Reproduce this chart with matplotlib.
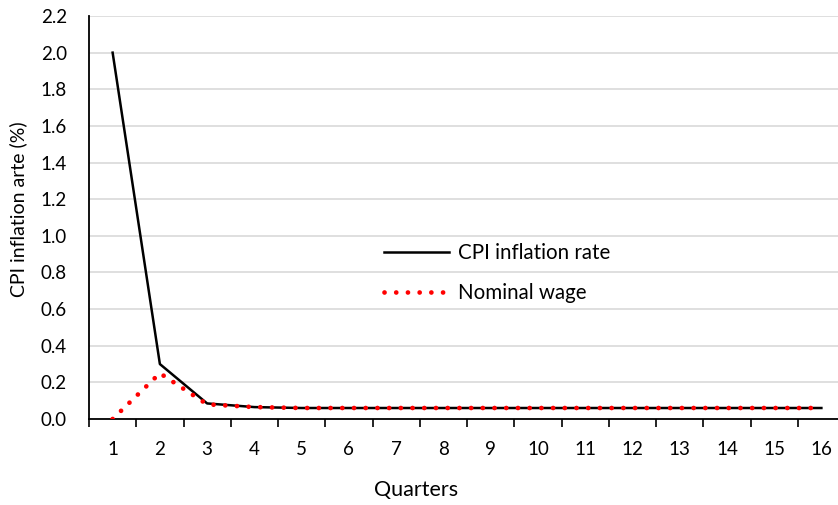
import matplotlib
matplotlib.use("Agg")
import matplotlib.pyplot as plt
import numpy as np

quarters = [str(i) for i in range(1, 17)]
cpi_inflation = [2.0, 0.30, 0.085, 0.065, 0.06, 0.06, 0.06, 0.06, 0.06, 0.06, 0.06, 0.06, 0.06, 0.06, 0.06, 0.06]
nominal_wage = [0.0, 0.25, 0.08, 0.065, 0.06, 0.06, 0.06, 0.06, 0.06, 0.06, 0.06, 0.06, 0.06, 0.06, 0.06, 0.06]
y_ticks = [0.0, 0.2, 0.4, 0.6, 0.8, 1.0, 1.2, 1.4, 1.6, 1.8, 2.0, 2.2]

plt.rcParams['font.family'] = ['Lato', 'DejaVu Sans']

W, H = 838, 505
fig = plt.figure(figsize=(W / 100, H / 100), dpi=100)
left, right, top, bottom = 89, 845, 16, 419
aw, ah = right - left, bottom - top
ax = fig.add_axes([left / W, 1 - bottom / H, aw / W, ah / H])

x = np.arange(len(quarters))
ax.plot(x, cpi_inflation, color='black', lw=1.8, label='CPI inflation rate', zorder=3)
ax.plot(x, nominal_wage, color='#ff0000', lw=3.4, linestyle=(0, (0.01, 2.47)),
        dash_capstyle='round', solid_capstyle='round', label='Nominal wage', zorder=4)

ax.set_xlim(-0.5, len(quarters) - 0.5)
ax.set_ylim(0, 2.2)
ax.set_yticks(y_ticks)
ax.set_yticklabels([f"{v:.1f}" for v in y_ticks], fontsize=13.5)
ax.set_xticks(x)
ax.set_xticklabels(quarters, fontsize=13.5)
ax.set_xticks(np.arange(len(quarters) + 1) - 0.5, minor=True)
ax.tick_params(axis='x', which='major', length=0, pad=16)
ax.tick_params(axis='x', which='minor', length=6, width=1.2, color='black', direction='out')
ax.tick_params(axis='y', length=0, pad=16)

ax.grid(axis='y', color='#d9d9d9', lw=1.2, zorder=0)
ax.set_axisbelow(True)
for s in ['top', 'right']:
    ax.spines[s].set_visible(False)
ax.spines['left'].set_linewidth(1.3)
ax.spines['bottom'].set_linewidth(1.3)

ax.set_xlabel('Quarters', fontsize=15.5)
ax.xaxis.set_label_coords((416 - left) / aw, -(480 - bottom) / ah)
ax.set_ylabel('CPI inflation arte (%)', fontsize=14)
ax.yaxis.set_label_coords((27 - left) / aw, (bottom - 209) / ah)

leg = ax.legend(loc='upper left', bbox_to_anchor=((365 - left) / aw, (bottom - 225) / ah),
                frameon=False, fontsize=14.8, handlelength=3.2, handletextpad=0.4, labelspacing=0.95)

fig.savefig('out.png', dpi=100)
